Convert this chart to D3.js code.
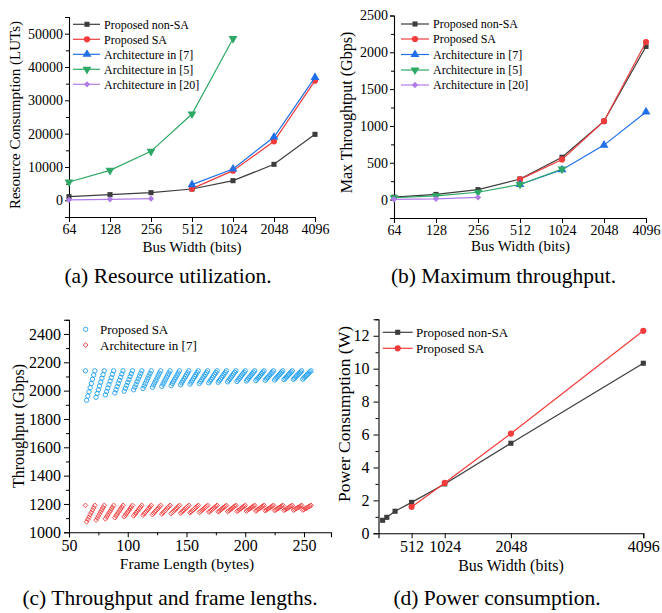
<!DOCTYPE html>
<html><head><meta charset="utf-8">
<script src="https://cdn.jsdelivr.net/npm/d3@7"></script>
<style>
body{margin:0;background:#fff}
text{font-family:"Liberation Serif","Times New Roman",serif;fill:#000}
</style>
</head><body>
<svg id="c" width="662" height="613" xmlns="http://www.w3.org/2000/svg"></svg>
<script>
// ---------- DATA ----------
const busWidths = ["64","128","256","512","1024","2048","4096"];
// (a) Resource consumption (LUTs)
const resNonSA = [1100,1700,2300,3400,5900,10800,19800];
const resSA    = [null,null,null,3500,8900,17700,35900];
const res7     = [null,null,null,4700,9400,19000,36900];
const res5     = [5500,9000,14700,25900,48500,null,null];
const res20    = [150,300,500,null,null,null,null];
// (b) Max throughput (Gbps)
const thrNonSA = [33,70,135,280,575,1065,2080];
const thrSA    = [null,null,null,275,545,1065,2140];
const thr7     = [null,null,null,205,405,740,1190];
const thr5     = [25,50,100,205,415,null,null];
const thr20    = [3,10,30,null,null,null,null];
// (c) Throughput vs frame length
const frameLengths = [64,
65,66,67,68,69,70,71,72, 73,74,75,76,77,78,79,80, 81,82,83,84,85,86,87,88,
89,90,91,92,93,94,95,96, 97,98,99,100,101,102,103,104, 105,106,107,108,109,110,111,112,
113,114,115,116,117,118,119,120, 121,122,123,124,125,126,127,128, 129,130,131,132,133,134,135,136,
137,138,139,140,141,142,143,144, 145,146,147,148,149,150,151,152, 153,154,155,156,157,158,159,160,
161,162,163,164,165,166,167,168, 169,170,171,172,173,174,175,176, 177,178,179,180,181,182,183,184,
185,186,187,188,189,190,191,192, 193,194,195,196,197,198,199,200, 201,202,203,204,205,206,207,208,
209,210,211,212,213,214,215,216, 217,218,219,220,221,222,223,224, 225,226,227,228,229,230,231,232,
233,234,235,236,237,238,239,240, 241,242,243,244,245,246,247,248, 249,250,251,252,253,254,255,256];
const frameSA = [2140,
1932,1962,1991,2021,2051,2081,2110,2140, 1953,1980,2006,2033,2060,2087,2113,2140,
1970,1994,2018,2043,2067,2091,2116,2140, 1984,2006,2029,2051,2073,2095,2118,2140,
1996,2017,2037,2058,2078,2099,2119,2140, 2006,2025,2044,2064,2083,2102,2121,2140,
2015,2033,2051,2069,2087,2104,2122,2140, 2023,2040,2056,2073,2090,2107,2123,2140,
2030,2046,2061,2077,2093,2109,2124,2140, 2036,2051,2066,2081,2095,2110,2125,2140,
2041,2056,2070,2084,2098,2112,2126,2140, 2046,2060,2073,2087,2100,2113,2127,2140,
2051,2064,2076,2089,2102,2115,2127,2140, 2055,2067,2079,2091,2104,2116,2128,2140,
2059,2070,2082,2093,2105,2117,2128,2140, 2062,2073,2084,2095,2107,2118,2129,2140,
2065,2076,2087,2097,2108,2119,2129,2140, 2068,2078,2089,2099,2109,2119,2130,2140,
2071,2081,2090,2100,2110,2120,2130,2140, 2073,2083,2092,2102,2111,2121,2130,2140,
2075,2085,2094,2103,2112,2122,2131,2140, 2078,2087,2095,2104,2113,2122,2131,2140,
2080,2088,2097,2106,2114,2123,2131,2140, 2081,2090,2098,2107,2115,2123,2132,2140];
const frame7 = [1190,
1074,1091,1107,1124,1140,1157,1173,1190, 1086,1101,1116,1130,1145,1160,1175,1190,
1095,1109,1122,1136,1149,1163,1176,1190, 1103,1116,1128,1140,1153,1165,1178,1190,
1110,1121,1133,1144,1156,1167,1179,1190, 1116,1126,1137,1148,1158,1169,1179,1190,
1121,1131,1140,1150,1160,1170,1180,1190, 1125,1134,1144,1153,1162,1171,1181,1190,
1129,1138,1146,1155,1164,1173,1181,1190, 1132,1140,1149,1157,1165,1173,1182,1190,
1135,1143,1151,1159,1167,1174,1182,1190, 1138,1145,1153,1160,1168,1175,1183,1190,
1140,1148,1155,1162,1169,1176,1183,1190, 1143,1149,1156,1163,1170,1176,1183,1190,
1145,1151,1158,1164,1171,1177,1184,1190, 1147,1153,1159,1165,1171,1178,1184,1190,
1148,1154,1160,1166,1172,1178,1184,1190, 1150,1156,1161,1167,1173,1179,1184,1190,
1151,1157,1163,1168,1174,1179,1185,1190, 1153,1158,1163,1169,1174,1179,1185,1190,
1154,1159,1164,1170,1175,1180,1185,1190, 1155,1160,1165,1170,1175,1180,1185,1190,
1156,1161,1166,1171,1176,1180,1185,1190, 1157,1162,1167,1171,1176,1181,1185,1190];
// (d) Power consumption (W)
const powerBus     = [64,128,256,512,1024,2048,4096];
const powerNonSA   = [0.79,0.97,1.34,1.88,3.0,5.47,10.33];
const powerSABus   = [512,1024,2048,4096];
const powerSA      = [1.6,3.06,6.06,12.3];

// tick labels
const ticksA = [0,10000,20000,30000,40000,50000];
const ticksB = [0,500,1000,1500,2000,2500];
const ticksCx = [50,100,150,200,250];
const ticksCy = [1000,1200,1400,1600,1800,2000,2200,2400];
const ticksDx = [512,1024,2048,4096];
const ticksDy = [0,2,4,6,8,10,12];

// ---------- STYLE ----------
const C = {gray:"#3d3d3d", red:"#f23b3b", blue:"#1f6fe6", green:"#2ea865", purple:"#b07de8",
           lblue:"#22a0f0", lred:"#f04444"};
const svg = d3.select("#c");

function symPath(type, size, rot){
  return {d: d3.symbol().type(type).size(size)(), rot: rot||0};
}
const SYM = {
  square: symPath(d3.symbolSquare, 26),
  circle: symPath(d3.symbolCircle, 30),
  tri: symPath(d3.symbolTriangle, 34),
  tridown: symPath(d3.symbolTriangle, 34, 180),
  diamond: symPath(d3.symbolSquare, 20, 45)
};

function drawAxes(g, x, y, o){
  const xa = d3.axisBottom(x).tickSizeOuter(0).tickSize(o.xts).tickPadding(o.xpad);
  if (o.xticks) xa.tickValues(o.xticks);
  if (o.xfmt) xa.tickFormat(o.xfmt);
  const gx = g.append("g").attr("transform", `translate(0,${y.range()[0]})`).call(xa);
  if (o.xminor){
    g.append("g").attr("transform", `translate(0,${y.range()[0]})`)
     .call(d3.axisBottom(x).tickValues(o.xminor).tickSize(3).tickSizeOuter(0).tickFormat(""))
     .select(".domain").remove();
  }
  const ya = d3.axisLeft(y).tickSizeOuter(0).tickSize(o.yts).tickPadding(o.ypad).tickValues(o.yticks).tickFormat(d3.format("d"));
  const gy = g.append("g").attr("transform", `translate(${x.range()[0]},0)`).call(ya);
  if (o.yminor){
    g.append("g").attr("transform", `translate(${x.range()[0]},0)`)
     .call(d3.axisLeft(y).tickValues(o.yminor).tickSize(3).tickSizeOuter(0).tickFormat(""))
     .select(".domain").remove();
  }
  [gx, gy].forEach(a => {
    a.selectAll("text").style("font-family",'"Liberation Serif",serif').style("font-size", o.fs+"px").attr("fill","#000");
    a.selectAll("line").attr("stroke","#000").attr("stroke-width",1);
    a.select(".domain").attr("stroke","#000").attr("stroke-width",1.1);
  });
  g.selectAll("line").attr("stroke","#000");
}

function drawSeries(g, xs, ys, x, y, color, sym, lw){
  const pts = xs.map((v,i)=>[v, ys[i]]).filter(p => p[1] != null);
  g.append("path").attr("d", d3.line().x(p=>x(p[0])).y(p=>y(p[1]))(pts))
   .attr("fill","none").attr("stroke",color).attr("stroke-width",lw||1.2);
  g.selectAll(null).data(pts).enter().append("path")
   .attr("d", sym.d).attr("fill", color)
   .attr("transform", p => `translate(${x(p[0])},${y(p[1])}) rotate(${sym.rot})`);
}

function legend(g, items, x0, x1, xm, xt, rows, fs){
  items.forEach((it,i)=>{
    const yy = rows[i];
    if (it.line !== false) g.append("line").attr("x1",x0).attr("x2",x1).attr("y1",yy).attr("y2",yy).attr("stroke",it.color).attr("stroke-width",1.2);
    if (it.hollow){
      g.append("path").attr("d", it.sym.d).attr("transform",`translate(${xm},${yy}) rotate(${it.sym.rot})`)
       .attr("fill","none").attr("stroke",it.color).attr("stroke-width",0.9);
    } else {
      g.append("path").attr("d", it.sym.d).attr("transform",`translate(${xm},${yy}) rotate(${it.sym.rot})`).attr("fill",it.color);
    }
    g.append("text").attr("x",xt).attr("y",yy).attr("dy","0.35em").style("font-size",fs+"px").text(it.label);
  });
}

function ytitle(g, x, y, txt, fs){
  g.append("text").attr("transform",`translate(${x},${y}) rotate(-90)`).attr("text-anchor","middle")
   .attr("dy","0.35em").style("font-size",fs+"px").text(txt);
}
function text(g, x, y, txt, fs){
  return g.append("text").attr("x",x).attr("y",y).attr("text-anchor","middle").style("font-size",fs+"px").text(txt);
}

// ---------- (a) ----------
{
  const g = svg.append("g");
  const x = d3.scalePoint().domain(busWidths).range([69,315]);
  const y = d3.scaleLinear().domain([-5000,55000]).range([217,17]);
  drawAxes(g, x, y, {xts:5, xpad:2, yts:4, ypad:2, yticks:ticksA,
    yminor:[-5000,5000,15000,25000,35000,45000,55000], fs:14});
  const ser = [
    [resNonSA, C.gray, SYM.square, "Proposed non-SA"],
    [resSA, C.red, SYM.circle, "Proposed SA"],
    [res7, C.blue, SYM.tri, "Architecture in [7]"],
    [res5, C.green, SYM.tridown, "Architecture in [5]"],
    [res20, C.purple, SYM.diamond, "Architecture in [20]"]
  ];
  ser.forEach(s => drawSeries(g, busWidths, s[0], x, y, s[1], s[2]));
  legend(g, ser.map(s=>({color:s[1], sym:s[2], label:s[3]})), 73, 100, 87, 104, [24.3,39.3,54.3,69.3,84.3], 12);
  ytitle(g, 15, 115, "Resource Consumption (LUTs)", 15);
  text(g, 192, 252, "Bus Width (bits)", 15);
  text(g, 168, 283, "(a) Resource utilization.", 21.5);
}
// ---------- (b) ----------
{
  const g = svg.append("g");
  const x = d3.scalePoint().domain(busWidths).range([394,646]);
  const y = d3.scaleLinear().domain([-250,2500]).range([218,15.5]);
  drawAxes(g, x, y, {xts:5, xpad:2, yts:4, ypad:2, yticks:ticksB,
    yminor:[-250,250,750,1250,1750,2250], fs:14});
  const ser = [
    [thrNonSA, C.gray, SYM.square, "Proposed non-SA"],
    [thrSA, C.red, SYM.circle, "Proposed SA"],
    [thr7, C.blue, SYM.tri, "Architecture in [7]"],
    [thr5, C.green, SYM.tridown, "Architecture in [5]"],
    [thr20, C.purple, SYM.diamond, "Architecture in [20]"]
  ];
  ser.forEach(s => drawSeries(g, busWidths, s[0], x, y, s[1], s[2]));
  legend(g, ser.map(s=>({color:s[1], sym:s[2], label:s[3]})), 401, 429, 415, 433, [24,39,54.5,70,85], 12);
  ytitle(g, 346, 112.5, "Max Throughtput (Gbps)", 16);
  text(g, 520.5, 251, "Bus Width (bits)", 15);
  text(g, 503.5, 283, "(b) Maximum throughput.", 21.5);
}
// ---------- (c) ----------
{
  const g = svg.append("g");
  const x = d3.scaleLinear().domain([50,273]).range([69,331]);
  const y = d3.scaleLinear().domain([1000,2500]).range([532.3,319.8]);
  drawAxes(g, x, y, {xts:5, xpad:2, xticks:ticksCx, xminor:[75,125,175,225], xfmt:d3.format("d"),
    yts:5, ypad:3, yticks:ticksCy, yminor:[1100,1300,1500,1700,1900,2100,2300,2500], fs:16});
  const circ = d3.symbol().type(d3.symbolCircle).size(15)();
  const diam = d3.symbol().type(d3.symbolSquare).size(11)();
  g.selectAll(null).data(frameLengths.map((f,i)=>[f,frameSA[i]])).enter().append("path")
   .attr("d",circ).attr("fill","none").attr("stroke",C.lblue).attr("stroke-width",0.9)
   .attr("transform",p=>`translate(${x(p[0])},${y(p[1])})`);
  g.selectAll(null).data(frameLengths.map((f,i)=>[f,frame7[i]])).enter().append("path")
   .attr("d",diam).attr("fill","none").attr("stroke",C.lred).attr("stroke-width",0.9)
   .attr("transform",p=>`translate(${x(p[0])},${y(p[1])}) rotate(45)`);
  legend(g, [{color:C.lblue, sym:{d:circ,rot:0}, label:"Proposed SA", line:false, hollow:true},
             {color:C.lred, sym:{d:diam,rot:45}, label:"Architecture in [7]", line:false, hollow:true}],
         0,0, 85.7, 100, [329.3,345], 13);
  ytitle(g, 18, 426, "Throughput (Gbps)", 16);
  text(g, 187, 569, "Frame Length (bytes)", 15.5);
  text(g, 170, 605, "(c) Throughput and frame lengths.", 21.5);
}
// ---------- (d) ----------
{
  const g = svg.append("g");
  const x = d3.scaleLinear().domain([0,4096]).range([378.5,643.3]);
  const y = d3.scaleLinear().domain([0,13]).range([533.3,319.3]);
  drawAxes(g, x, y, {xts:5, xpad:2, xticks:ticksDx, xfmt:d3.format("d"),
    yts:5, ypad:4, yticks:ticksDy, yminor:[1,3,5,7,9,11,13], fs:16});
  drawSeries(g, powerBus, powerNonSA, x, y, C.gray, SYM.square);
  drawSeries(g, powerSABus, powerSA, x, y, C.red, SYM.circle);
  legend(g, [{color:C.gray, sym:SYM.square, label:"Proposed non-SA"},
             {color:C.red, sym:SYM.circle, label:"Proposed SA"}], 382.7, 412.7, 397.7, 416, [332.3,348.3], 13);
  ytitle(g, 344, 414, "Power Consumption (W)", 17.5);
  text(g, 511, 571, "Bus Width (bits)", 16);
  text(g, 497, 605, "(d) Power consumption.", 21.5);
}
</script>
</body></html>
